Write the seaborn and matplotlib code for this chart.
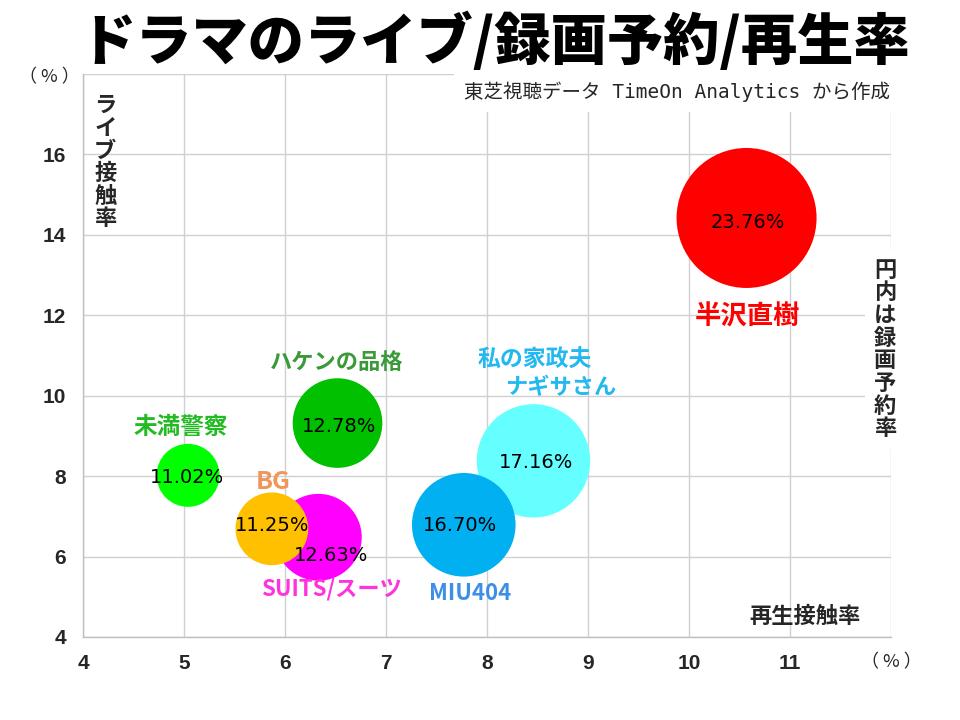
import numpy as np
import pandas as pd
import matplotlib
matplotlib.use("Agg")
import matplotlib.pyplot as plt
import seaborn as sns

# data
dramas = ["半沢直樹", "私の家政夫ナギサさん", "MIU404", "ハケンの品格", "未満警察", "SUITS/スーツ", "BG"]
replay_rate = [10.57, 8.46, 7.77, 6.52, 5.04, 6.33, 5.87]     # 再生接触率 (x)
live_rate = [14.42, 8.38, 6.79, 9.32, 8.02, 6.48, 6.69]       # ライブ接触率 (y)
record_rate = [23.76, 17.16, 16.70, 12.78, 11.02, 12.63, 11.25]  # 録画予約率 (bubble label)
bubble = [1.00, 0.81, 0.74, 0.64, 0.45, 0.62, 0.52]           # relative bubble radius as drawn

x_ticks = [4, 5, 6, 7, 8, 9, 10, 11, 12]
y_ticks = [4, 6, 8, 10, 12, 14, 16, 18]

# styling
bubble_colors = {"半沢直樹": "#FF0000", "私の家政夫ナギサさん": "#66FFFF", "MIU404": "#00B0F0",
                 "ハケンの品格": "#00C000", "未満警察": "#00FF00", "SUITS/スーツ": "#FF00FF",
                 "BG": "#FFC000"}
name_colors = {"半沢直樹": "#FF0000", "私の家政夫ナギサさん": "#22B8F0", "MIU404": "#3D8FE6",
               "ハケンの品格": "#3A9A3A", "未満警察": "#22BB22", "SUITS/スーツ": "#FF33DD",
               "BG": "#F0965A"}
# name label lines: (text, dx px, dy px, fontsize) relative to bubble centre
name_offsets = {"半沢直樹": [("半沢直樹", 1, -99, 19)],
                "私の家政夫ナギサさん": [("私の家政夫", 1, 101, 16.5), ("ナギサさん", 27, 73, 16)],
                "MIU404": [("MIU404", 6, -69, 16)],
                "ハケンの品格": [("ハケンの品格", -1, 61, 16)],
                "未満警察": [("未満警察", -7, 48, 17)],
                "SUITS/スーツ": [("SUITS/スーツ", 13, -52, 16)],
                "BG": [("BG", 1, 47, 18)]}
value_offsets = {"半沢直樹": (1, -5), "私の家政夫ナギサさん": (3, -2), "MIU404": (-4, -1),
                 "ハケンの品格": (2, -3), "未満警察": (-1, -2), "SUITS/スーツ": (13, -18),
                 "BG": (0, 3)}

df = pd.DataFrame({"drama": dramas, "replay": replay_rate, "live": live_rate,
                   "record": record_rate, "bubble": bubble})
# marker area in points^2 (largest bubble ~140 px across)
df["area"] = (np.array(bubble) * 140 * 0.72) ** 2

sns.set_style("white")
jp = ["Noto Sans CJK JP", "DejaVu Sans"]
plt.rcParams["font.family"] = jp

fig = plt.figure(figsize=(9.6, 7.2), dpi=100)
ax = fig.add_axes([83 / 960, 1 - 637 / 720, (891 - 83) / 960, (637 - 74) / 720])

sns.scatterplot(data=df, x="replay", y="live", hue="drama", palette=bubble_colors,
                size="area", sizes=(df["area"].min(), df["area"].max()),
                linewidth=0, alpha=1, legend=False, ax=ax, zorder=3)

ax.set_xlim(4, 12)
ax.set_ylim(4, 18)
ax.set_xticks(x_ticks)
ax.set_yticks(y_ticks)
ax.set_xticklabels([str(t) for t in x_ticks[:-1]] + ["（ % ）"])
ax.set_yticklabels([str(t) for t in y_ticks[:-1]] + [""])
ax.tick_params(length=0, pad=12)
for lab in ax.get_xticklabels() + ax.get_yticklabels():
    lab.set_fontsize(15)
    lab.set_fontweight("bold")
    lab.set_fontfamily(["Liberation Sans"])
pct = ax.get_xticklabels()[-1]
pct.set_fontweight("normal")
pct.set_fontsize(13)
pct.set_fontfamily(["Noto Sans CJK JP"])
fig.text(49 / 960, 1 - 77 / 720, "（ % ）", ha="center", va="center", fontsize=13)

ax.set_xlabel("")
ax.set_ylabel("")
ax.grid(True, color="#D0D0D0", linewidth=1)
for side in ["top", "right"]:
    ax.spines[side].set_visible(False)
for side in ["left", "bottom"]:
    ax.spines[side].set_color("#BFBFBF")
    ax.spines[side].set_linewidth(1)

# labels on the bubbles
px = 0.72
for _, row in df.iterrows():
    d = row["drama"]
    for text, dx, dy, fs in name_offsets[d]:
        ax.annotate(text, (row["replay"], row["live"]), xytext=(dx * px, dy * px),
                    textcoords="offset points", ha="center", va="center",
                    fontsize=fs, fontweight="bold", color=name_colors[d], zorder=5)
    vx, vy = value_offsets[d]
    ax.annotate(f"{row['record']:.2f}%", (row["replay"], row["live"]), xytext=(vx * px, vy * px),
                textcoords="offset points", ha="center", va="center",
                fontsize=14, family=["DejaVu Sans"], color="black", zorder=6)

# axis captions
ax.text(4.22, 17.5, "\n".join("ライブ接触率"), ha="center", va="top", fontsize=16,
        fontweight="bold", linespacing=0.98, zorder=4)
ax.text(11.94, 11.15, "\n".join("円内は録画予約率"), ha="center", va="center", fontsize=16,
        fontweight="bold", linespacing=0.98, zorder=4, clip_on=False,
        bbox=dict(facecolor="white", edgecolor="none", pad=6))
ax.text(11.15, 4.5, "再生接触率", ha="center", va="center", fontsize=16,
        fontweight="bold", zorder=4)

# source note with white box over the top grid
fig.text(890 / 960, 1 - 92 / 720, "東芝視聴データ TimeOn Analytics から作成", ha="right", va="center",
         fontsize=14, family=["DejaVu Sans Mono", "Noto Sans CJK JP"],
         bbox=dict(facecolor="white", edgecolor="none", pad=7), zorder=10)

fig.text(495 / 960, 1 - 42 / 720, "ドラマのライブ/録画予約/再生率", ha="center", va="center",
         fontsize=40.5, fontweight="heavy", color="black")

fig.savefig("out.png", dpi=100)
